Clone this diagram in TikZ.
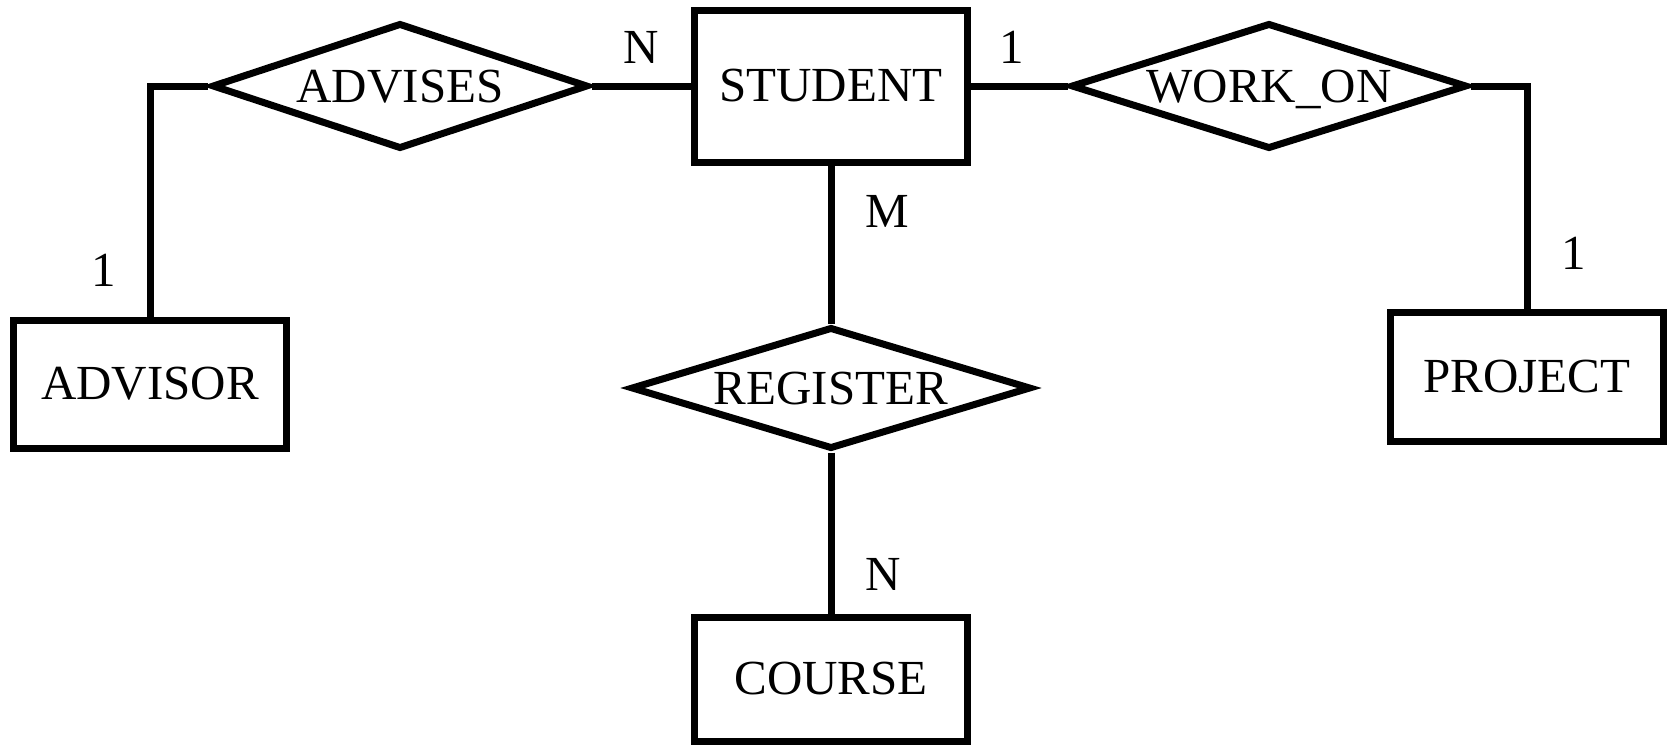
\documentclass[tikz,border=0pt]{standalone}
\usepackage{fontspec}
\setmainfont{Liberation Serif}
\usetikzlibrary{shapes.geometric}
\tikzstyle{entity} = [draw, rectangle, minimum width=136.5pt, minimum height=64pt, inner sep=0pt]
\tikzstyle{relation} = [draw, diamond, aspect=3, inner sep=0pt, text depth=0pt, minimum height=63pt]
\tikzstyle{card} = [inner xsep=15.5pt, inner ysep=9.5pt]

\begin{document}
\begin{tikzpicture}[x=0.5pt,y=-0.5pt,auto,line width=3.5pt,every node/.style={font=\fontsize{24.5pt}{28pt}\selectfont}]
		\useasboundingbox (0,0) rectangle (1669,744);
		\node (student) [entity, minimum height=76pt] at (831,86) {STUDENT};
		\node (advises) [relation, left of=student, node distance=215.5pt, minimum width=188pt] {ADVISES};
		\node (workon) [relation, right of=student, node distance=219pt, minimum width=198pt] {WORK\_ON};
		\node (register) [relation, below of=student, node distance=151pt, minimum width=200pt, minimum height=61pt] {REGISTER};
		\node (course) [entity, below of=register, node distance=145.5pt, minimum height=62pt] {COURSE};
		\node (advisor) [entity, left of=register, node distance=340.5pt, yshift=2pt] {ADVISOR};
		\node (project) [entity, right of=register, node distance=348pt, yshift=5.5pt, minimum height=64.5pt] {PROJECT};

		\draw (advises) -- node[card] {N} (student);
		\draw (student) -- node[card, pos=0.42] {1} (workon);
		\draw (student) -- node[card, pos=0.29] {M} (register);
		\draw (register) -- node[card, pos=0.76] {N} (course);
		\draw (advisor) |- node[card, pos=0.1] {1} (advises);
		\draw (workon) -| node[card, pos=0.875] {1} (project);
	\end{tikzpicture}
\end{document}
